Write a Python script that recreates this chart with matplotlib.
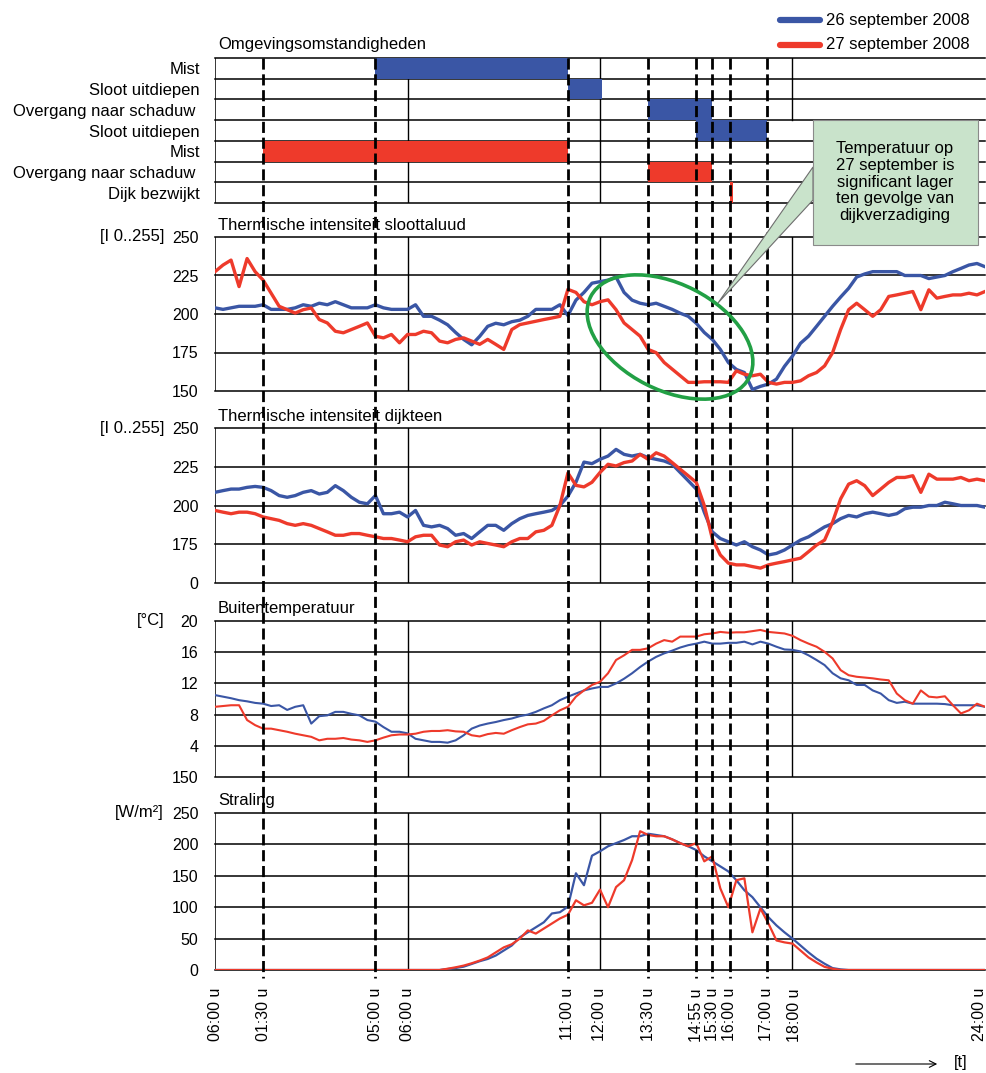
import numpy as np
import matplotlib
matplotlib.use("Agg")
import matplotlib.pyplot as plt
from matplotlib.lines import Line2D
from matplotlib.patches import Ellipse, Polygon, Rectangle, FancyArrowPatch
from matplotlib.transforms import blended_transform_factory, ScaledTranslation

plt.rcParams['font.family'] = ['Liberation Sans', 'DejaVu Sans']

# ---- data -------------------------------------------------------------
hours = np.arange(0, 24.01, 0.25)

days = ["26 september 2008", "27 september 2008"]
day_colors = ["#3A56A5", "#EE3A2B"]

row_labels = ["Mist", "Sloot uitdiepen", "Overgang naar schaduw ", "Sloot uitdiepen",
              "Mist", "Overgang naar schaduw ", "Dijk bezwijkt"]
# events: row, start [h], end [h], day index
event_rows = [0, 1, 2, 3, 4, 5, 6]
event_start = [5.0, 11.0, 13.5, 15.0, 1.5, 13.5, 16.05]
event_end = [11.0, 12.05, 15.5, 17.2, 11.0, 15.5, 16.15]
event_day = [0, 0, 0, 0, 1, 1, 1]

marker_times = [1.5, 5.0, 11.0, 13.5, 15.0, 15.5, 16.05, 17.2]
tick_pos = [0, 1.5, 5.0, 6.0, 11.0, 12.0, 13.5, 15.0, 15.5, 16.05, 17.2, 18.05, 24]
tick_labels = ["06:00 u", "01:30 u", "05:00 u", "06:00 u", "11:00 u", "12:00 u", "13:30 u",
               "14:55 u", "15:30 u", "16:00 u", "17:00 u", "18:00 u", "24:00 u"]

sloot_26 = [204, 203, 204, 205, 205, 205, 206, 203, 203, 203, 204, 206,
            205, 207, 206, 208, 206, 204, 204, 204, 206, 204, 203, 203,
            203, 206, 198.5, 198.5, 196, 193, 188, 183.5, 180, 185.5, 192, 194,
            193, 195, 196, 198.5, 203, 203, 203, 206, 199, 209, 214, 220,
            221, 222, 224, 214, 209, 207, 206, 207, 205, 203, 200.5, 198.5,
            194, 188, 183.5, 177, 168.5, 164, 162, 151, 153, 154.5, 157.7, 166,
            172.7, 181, 185.6, 192, 198.5, 205, 211, 216.7, 224, 226, 227.5, 227.5,
            227.5, 227.5, 225, 225, 225, 223, 224, 225, 227.5, 229.6, 231.8, 232.8,
            230.7]
sloot_27 = [227.5, 231.8, 235, 217.8, 236, 227.5, 222, 213.5, 205, 202.8, 200.6, 202.8,
            203.9, 196.4, 194.2, 188.8, 187.8, 189.9, 192, 194.2, 185.6, 184.5, 186.7, 181.3,
            186.7, 186.7, 188.8, 187.8, 182.4, 181.3, 183.5, 184.5, 182.4, 180.3, 183.5, 180.3,
            177, 189.9, 193.1, 194.2, 195.3, 196.4, 197.4, 198.5, 216, 214, 208, 206,
            208, 209.2, 202.8, 194.2, 189.9, 185.6, 177, 174.9, 168.5, 164.2, 159.9, 155.6,
            155.6, 156, 156, 156, 155.6, 163.1, 160.9, 159.9, 160.9, 155.6, 154.5, 155.6,
            155.6, 156.6, 159.9, 162, 166.3, 174.9, 189.9, 202.8, 207, 202.8, 198.5, 202.8,
            211.4, 212.4, 213.5, 214.6, 202.8, 215.7, 210.3, 211.4, 212.4, 212.4, 213.5, 212.4,
            214.6]

teen_26 = [208.5, 209.6, 210.6, 210.6, 211.7, 212.3, 211.7, 209.6, 206.4, 205.3, 206.4, 208.5,
           209.6, 207.4, 208.5, 212.8, 209.6, 205.3, 202.1, 201.1, 206.4, 194.7, 194.7, 195.7,
           192.6, 196.8, 187.2, 186.2, 187.2, 185.1, 180.8, 181.9, 178.7, 183, 187.2, 187.2,
           184, 188.3, 191.5, 193.6, 194.7, 195.7, 196.8, 200, 206, 215, 228, 227,
           229.8, 231.9, 236.2, 233, 231.9, 233, 230.9, 229.8, 228.7, 226.6, 221.3, 216,
           210.6, 195.7, 183, 178.7, 176.6, 174.5, 176.6, 173.4, 171.3, 168.1, 169.1, 171.3,
           174.5, 177.7, 179.8, 183, 186.2, 188.3, 191.5, 193.6, 192.6, 194.7, 195.7, 194.7,
           193.6, 194.7, 197.9, 198.9, 198.9, 200, 200, 202.1, 201.1, 200, 200, 200,
           198.9]
teen_27 = [196.8, 195.7, 194.7, 195.7, 195.7, 194.7, 192.6, 191.5, 190.4, 188.3, 187.2, 188.3,
           187.2, 185.1, 183, 180.8, 180.8, 181.9, 181.9, 180.8, 179.8, 178.7, 178.7, 177.7,
           176.6, 179.8, 180.8, 180.8, 174.5, 173.4, 176.6, 177.7, 174.5, 176.6, 175.5, 174.5,
           173.4, 176.6, 178.7, 178.7, 183, 184, 187.2, 200, 221, 213, 212, 215,
           221.3, 226.6, 225.5, 227.7, 228.7, 233, 229.8, 234, 231.9, 227.7, 223.4, 219.2,
           214.9, 200, 178.7, 168.1, 162.8, 161.7, 161.7, 160.6, 159.6, 161.7, 162.8, 163.8,
           164.9, 166, 170.2, 174.5, 177.7, 189.4, 204.3, 213.8, 216, 212.8, 206.4, 210.6,
           214.9, 218.1, 218.1, 219.2, 208.5, 220.2, 217, 217, 217, 218.1, 216, 217,
           216]

temp_26 = [10.5, 10.3, 10.1, 9.85, 9.7, 9.5, 9.4, 9.1, 9.2, 8.6, 9.0, 9.2,
           6.85, 7.8, 7.9, 8.35, 8.35, 8.1, 7.9, 7.3, 7.1, 6.4, 5.8, 5.8,
           5.6, 4.9, 4.7, 4.5, 4.5, 4.4, 4.7, 5.35, 6.2, 6.6, 6.85, 7.05,
           7.3, 7.5, 7.8, 8.0, 8.35, 8.8, 9.2, 9.85, 10.3, 10.7, 11.1, 11.35,
           11.55, 11.55, 12, 12.6, 13.3, 14.1, 14.8, 15.4, 15.85, 16.2, 16.6, 16.9,
           17.1, 17.35, 17.1, 17.1, 17.2, 17.2, 17.35, 17.0, 17.35, 17.1, 16.7, 16.35,
           16.3, 16.1, 15.6, 15.0, 14.35, 13.3, 12.65, 12.4, 11.8, 11.8, 11.1, 10.7,
           9.85, 9.5, 9.65, 9.4, 9.4, 9.4, 9.4, 9.35, 9.2, 9.2, 9.2, 9.2,
           9.0]
temp_27 = [9.0, 9.1, 9.2, 9.2, 7.3, 6.65, 6.2, 6.2, 6.0, 5.8, 5.55, 5.35,
           5.15, 4.7, 4.9, 4.9, 5.0, 4.8, 4.7, 4.5, 4.7, 5.05, 5.35, 5.45,
           5.45, 5.55, 5.8, 5.9, 5.9, 6.0, 5.85, 5.8, 5.35, 5.2, 5.5, 5.65,
           5.55, 6.0, 6.4, 6.75, 6.85, 7.2, 7.9, 8.55, 9.0, 10.3, 11.1, 11.8,
           12.2, 13.3, 15.0, 15.6, 16.3, 16.3, 16.5, 17.1, 17.55, 17.35, 18.0, 18.0,
           18.0, 18.3, 18.4, 18.6, 18.5, 18.55, 18.55, 18.7, 18.85, 18.6, 18.5, 18.4,
           18.1, 17.55, 17.1, 16.7, 16.05, 15.2, 13.7, 13.05, 12.85, 12.75, 12.65, 12.5,
           12.4, 10.7, 9.85, 9.4, 11.1, 10.3, 10.2, 10.35, 9.2, 8.15, 8.55, 9.4,
           9.0]

stral_26 = [0] * 24 + [0, 0, 0, 0, 0, 1.6, 3.2, 5.3, 9.6, 14, 17.6, 23,
                       31, 39, 52, 60, 68, 76, 90, 92, 101, 154, 135, 182,
                       189, 197, 202, 207, 213, 213, 217, 215, 213, 208, 202, 197,
                       191, 181, 173, 165, 157, 143, 127, 116, 100, 84, 71, 60,
                       50, 39, 28, 18, 10, 3, 1, 0, 0, 0, 0, 0] + [0] * 13
stral_27 = [0] * 24 + [0, 0, 0, 0, 0, 2, 4.3, 7, 10.7, 15, 20, 28,
                       36, 41, 50, 63, 58, 66, 74, 82, 88, 111, 103, 107,
                       128, 100, 132, 143, 175, 221, 215, 213, 213, 208, 202, 197,
                       202, 173, 181, 130, 100, 143, 146, 60, 98, 74, 47, 44,
                       42, 31, 20, 12, 5, 2, 0, 0, 0, 0, 0, 0] + [0] * 13

sloot_ticks = [150, 175, 200, 225, 250]
sloot_ticklabels = ["150", "175", "200", "225", "250"]
teen_ticks = [150, 175, 200, 225, 250]
teen_ticklabels = ["0", "175", "200", "225", "250"]
temp_ticks = [0, 4, 8, 12, 16, 20]
temp_ticklabels = ["150", "4", "8", "12", "16", "20"]
stral_ticks = [0, 50, 100, 150, 200, 250]
stral_ticklabels = ["0", "50", "100", "150", "200", "250"]

# ---- layout -------------------------------------------------------------
W, H = 986, 1073
fig = plt.figure(figsize=(W / 100, H / 100), dpi=100)
inch = fig.dpi_scale_trans


def px(x, y):
    return (x / 100, (H - y) / 100)


def frame(top, bottom):
    return [215 / W, 1 - bottom / H, 770 / W, (bottom - top) / H]


# top panel: conditions
ax0 = fig.add_axes(frame(58, 203))
ax0.set_xlim(0, 24)
ax0.set_ylim(7, 0)
for s in ax0.spines.values():
    s.set_visible(False)
for r in range(8):
    ax0.axhline(r, color='k', lw=1.1, clip_on=False, zorder=1)
ax0.axvline(0, color='k', lw=1.1, zorder=1)
ax0.axvline(6, color='k', lw=1.0, zorder=1)
ax0.axvline(12, color='k', lw=1.0, zorder=1)
ax0.axvline(18, ymin=4 / 7, color='k', lw=1.0, zorder=1)
for row, st, en, d in zip(event_rows, event_start, event_end, event_day):
    ax0.barh(row + 0.5, en - st, left=st, height=1, color=day_colors[d], zorder=2)
ax0.set_xticks([])
ax0.set_yticks(np.arange(7) + 0.5, row_labels)
ax0.tick_params(axis='y', length=0, pad=11, labelsize=12)
fig.text(218 / W, 1 - 45 / H, "Omgevingsomstandigheden", fontsize=12, va='center')


def panel(top, bottom, ticks, ticklabels, title, unit, s26, s27, lw):
    ax = fig.add_axes(frame(top, bottom))
    ax.set_xlim(0, 24)
    ax.set_ylim(ticks[0], ticks[-1])
    for s in ax.spines.values():
        s.set_visible(False)
    for y in ticks:
        ax.axhline(y, color='k', lw=1.1, clip_on=False, zorder=1)
    ax.axvline(0, color='k', lw=1.1, zorder=1)
    for x in [6, 12, 18]:
        ax.axvline(x, color='k', lw=1.0, zorder=1)
    ax.plot(hours, s26, color=day_colors[0], lw=lw, zorder=3)
    ax.plot(hours, s27, color=day_colors[1], lw=lw, zorder=3)
    ax.set_xticks([])
    ax.set_yticks(ticks, ticklabels)
    ax.tick_params(axis='y', length=0, pad=12, labelsize=11.5)
    fig.text(218 / W, 1 - (top - 12) / H, title, fontsize=12, va='center')
    fig.text(164 / W, 1 - top / H, unit, fontsize=12, va='center', ha='right')
    return ax


ax1 = panel(237, 391, sloot_ticks, sloot_ticklabels, "Thermische intensiteit sloottaluud",
            "[I 0..255]", sloot_26, sloot_27, 2.4)
ax2 = panel(428, 583, teen_ticks, teen_ticklabels, "Thermische intensiteit dijkteen",
            "[I 0..255]", teen_26, teen_27, 2.4)
ax3 = panel(621, 777, temp_ticks, temp_ticklabels, "Buitentemperatuur",
            "[°C]", temp_26, temp_27, 1.5)
ax4 = panel(813, 970, stral_ticks, stral_ticklabels, "Straling",
            "[W/m²]", stral_26, stral_27, 1.6)

ax4.set_xticks(tick_pos, tick_labels, rotation=90)
ax4.tick_params(axis='x', length=0, pad=13, labelsize=11.5)
# keep the last label inside the picture
last = ax4.get_xticklabels()[-1]
last.set_transform(last.get_transform() + ScaledTranslation(-0.05, 0, inch))

# dashed event markers through all panels
trans = blended_transform_factory(ax4.transData, inch)
for t in marker_times:
    fig.add_artist(Line2D([t, t], [(H - 58) / 100, (H - 978) / 100], transform=trans,
                          color='k', lw=2.0, linestyle=(0, (4, 1.7)), zorder=5))

# legend
for i, (name, c) in enumerate(zip(days, day_colors)):
    y = 20 + 25 * i
    fig.add_artist(Line2D([780 / 100, 820 / 100], [(H - y) / 100] * 2, transform=inch,
                          color=c, lw=4.5, solid_capstyle='round'))
    fig.text(826 / 100, (H - y) / 100, name, transform=inch, fontsize=12, va='center')

# highlight ellipse and callout
fig.add_artist(Ellipse(px(670, 337), 1.78, 1.06, angle=-27, transform=inch, fill=False,
                       edgecolor='#22A045', lw=2.6, zorder=6))
box_c = '#C9E3CB'
fig.add_artist(Polygon([px(813, 167), px(718, 303), px(813, 200)], closed=True,
                       facecolor=box_c, edgecolor='#6E6E6E', lw=0.8, transform=inch, zorder=7))
fig.add_artist(Rectangle(px(813, 245), 1.65, 1.25, facecolor=box_c, edgecolor='#8A8A8A',
                         lw=0.8, transform=inch, zorder=8))
fig.text(895 / 100, (H - 182) / 100,
         "Temperatuur op\n27 september is\nsignificant lager\nten gevolge van\ndijkverzadiging",
         transform=inch, ha='center', va='center', fontsize=12, linespacing=1.15, zorder=9)

# time arrow
fig.add_artist(FancyArrowPatch(px(853, 1064), px(940, 1064), arrowstyle='->',
                               mutation_scale=12, lw=0.8, color='k', transform=inch))
fig.text(954 / 100, (H - 1062) / 100, "[t]", transform=inch, fontsize=12, va='center')

fig.savefig("out.png", dpi=100)
